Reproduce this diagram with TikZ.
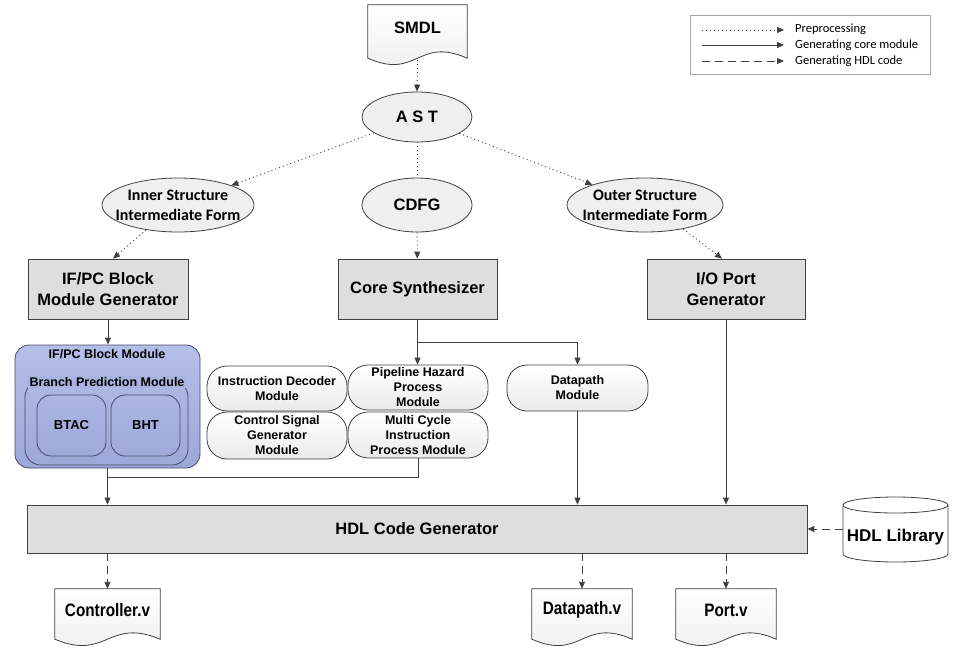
\documentclass[tikz,border=0pt]{standalone}
\usepackage{fontspec}
\setmainfont{Liberation Sans}
\newfontfamily\calfont{Carlito}
\newfontfamily\narrowfont{Liberation Sans}[FakeStretch=0.85]
\usetikzlibrary{arrows.meta,calc,backgrounds,shapes.geometric}
\definecolor{linec}{HTML}{404040}
\definecolor{boxgray}{HTML}{DEDEDE}
\definecolor{ellgray}{HTML}{EFEFEF}
\definecolor{bluefill}{HTML}{A9B3E0}
\definecolor{bluetop}{HTML}{B6BFE8}
\definecolor{bluebot}{HTML}{9CA7DA}
\definecolor{blueline}{HTML}{4A4A66}
\newcommand\bigfnt{\fontsize{16.5}{21}\selectfont\bfseries}
\newcommand\midfnt{\fontsize{12.5}{15}\selectfont\bfseries}
\newcommand\docbg[1]{%
  \path[docshape] (#1.north west) -- (#1.north east) -- ($(#1.south east)+(0,8)$)
    .. controls ($(#1.south)+(0,-14)$) and ($(#1.south)+(0,30)$) .. ($(#1.south west)+(0,8)$) -- cycle;}
\tikzset{
  lnk/.style={draw=linec, line width=0.9pt},
  arr/.style={lnk, -{Triangle[length=7pt,width=6pt]}},
  dotline/.style={lnk, dash pattern=on 1pt off 3pt},
  dotarr/.style={arr, dash pattern=on 1pt off 3pt},
  dasharr/.style={arr, dash pattern=on 8pt off 5pt},
  docshape/.style={draw=linec, line width=0.8pt, top color=white, bottom color=gray!14},
  docnode/.style={draw=none, inner sep=0pt, align=center},
  graybox/.style={draw=linec, line width=0.8pt, fill=boxgray, inner sep=0pt, align=center, font=\bigfnt},
  ell/.style={ellipse, draw=linec, line width=0.8pt, fill=ellgray, inner xsep=-10pt, inner ysep=0pt, align=center},
  pill/.style={rectangle, rounded corners=20pt, draw=linec, line width=0.8pt, top color=white, bottom color=gray!16, inner sep=0pt, align=center, font=\midfnt, minimum width=140},
  bluebox/.style={rectangle, draw=blueline, line width=0.8pt, top color=bluetop, bottom color=bluebot, inner sep=0pt},
  inbox/.style={rectangle, draw=blueline, line width=0.8pt, inner sep=0pt, align=center},
  legtext/.style={anchor=west, inner sep=0pt, font=\calfont\fontsize{12.5}{14}\selectfont}
}
\begin{document}
\begin{tikzpicture}[x=1pt,y=-1pt]
\useasboundingbox (0,0) rectangle (956,661);

% legend
\node[draw=gray!70, line width=0.8pt, fill=white, minimum width=240, minimum height=59, inner sep=0pt] (legend) at (810,44.5) {};
\coordinate (l1a) at (702,30); \coordinate (l1b) at (784,30);
\coordinate (l2a) at (702,45); \coordinate (l2b) at (784,45);
\coordinate (l3a) at (702,61); \coordinate (l3b) at (784,61);
\draw[dotarr] (l1a) -- (l1b);
\draw[arr] (l2a) -- (l2b);
\draw[dasharr] (l3a) -- (l3b);
\node[legtext] (t1) at (795,29) {Preprocessing};
\node[legtext] (t2) at (795,45) {Generating core module};
\node[legtext] (t3) at (795,61) {Generating HDL code};

% top documents and ellipses
\node[docnode, minimum width=99, minimum height=45, font=\bigfnt] (smdl) at (417.5,27.5) {SMDL};
\node[ell, minimum width=110, minimum height=50, font=\bigfnt] (ast) at (417,117) {A S T};
\node[ell, minimum width=152, minimum height=54, font=\calfont\fontsize{16}{20}\selectfont\bfseries] (inner) at (178,205) {Inner Structure\\Intermediate Form};
\node[ell, minimum width=110, minimum height=54, font=\bigfnt] (cdfg) at (417,205) {CDFG};
\node[ell, minimum width=156, minimum height=54, font=\calfont\fontsize{16}{20}\selectfont\bfseries] (outer) at (645,205) {Outer Structure\\Intermediate Form};

% generators
\node[graybox, minimum width=160, minimum height=60] (ifpc) at (108,289) {IF/PC Block\\Module Generator};
\node[graybox, minimum width=159, minimum height=60] (core) at (417.5,289) {Core Synthesizer};
\node[graybox, minimum width=158, minimum height=60] (io) at (726,289) {I/O Port\\Generator};

% IF/PC block module
\node[bluebox, rounded corners=14pt, minimum width=185, minimum height=123] (blue) at (107.5,406.5) {};
\node[inbox, rounded corners=16pt, minimum width=163, minimum height=84] (branch) at (106.5,423) {};
\node[inner sep=1.5pt, fill=bluefill, font=\midfnt] (brlabel) at (107,382) {Branch Prediction Module};
\node[inner sep=0pt, font=\midfnt] (bltitle) at (107,354) {IF/PC Block Module};
\node[inbox, rounded corners=14pt, minimum width=69, minimum height=61, font=\fontsize{13}{15}\selectfont\bfseries] (btac) at (71.5,425.5) {BTAC};
\node[inbox, rounded corners=14pt, minimum width=69, minimum height=61, font=\fontsize{13}{15}\selectfont\bfseries] (bht) at (145.5,425.5) {BHT};

% core modules
\node[pill, minimum height=45] (idm) at (277,388.5) {Instruction Decoder\\Module};
\node[pill, minimum height=45] (phm) at (418,387.5) {Pipeline Hazard\\Process\\Module};
\node[pill, minimum height=47] (csg) at (277,435.5) {Control Signal\\Generator\\Module};
\node[pill, minimum height=46] (mci) at (418,435) {Multi Cycle\\Instruction\\Process Module};
\node[pill, minimum width=141, minimum height=46] (dpm) at (577.5,388) {Datapath\\Module};

% HDL generator and library
\node[graybox, minimum width=780, minimum height=48] (hdl) at (417,529) {HDL Code Generator};
\node[anchor=base, inner sep=0pt, minimum width=105, font=\fontsize{17}{20}\selectfont\bfseries] (lib) at (895.5,541) {HDL Library};

% outputs
\node[docnode, minimum width=105, minimum height=42, font=\narrowfont\fontsize{18}{20}\selectfont\bfseries] (ctrl) at (107.5,610) {Controller.v};
\node[docnode, minimum width=100, minimum height=42, font=\narrowfont\fontsize{18}{20}\selectfont\bfseries] (dpv) at (582,610) {Datapath.v};
\node[docnode, minimum width=100, minimum height=42, font=\narrowfont\fontsize{18}{20}\selectfont\bfseries] (portv) at (726,610) {Port.v};

\begin{scope}[on background layer]
  \docbg{smdl}
  \docbg{ctrl}
  \docbg{dpv}
  \docbg{portv}
  \path[draw=linec, line width=0.8pt, fill=white] (843,505) -- (843,554)
     arc[start angle=180, end angle=0, x radius=52.5, y radius=8] -- (948,505)
     arc[start angle=0, end angle=-180, x radius=52.5, y radius=8] -- cycle;
  \draw[linec, line width=0.8pt] (843,505) arc[start angle=180, end angle=0, x radius=52.5, y radius=8];
\end{scope}

% preprocessing connectors
\draw[dotarr] ($(smdl.south)+(0,10)$) -- (ast.north);
\draw[dotarr] (ast) -- (inner);
\draw[dotline] (ast) -- (cdfg);
\draw[dotarr] (ast) -- (outer);
\draw[dotarr] (inner.218) -- ([xshift=5pt]ifpc.north);
\draw[dotarr] (cdfg) -- (core);
\draw[dotarr] (outer.328) -- ([xshift=-4pt]io.north);

% core generation connectors
\draw[arr] (ifpc.south) -- (ifpc.south |- blue.north);
\draw[lnk] (core.south) -- ($(core.south)+(0,23)$) coordinate (j1);
\draw[arr] (j1) -- (j1 |- phm.north);
\draw[arr] (j1) -| (dpm.north);
\coordinate (j2) at (107.5,477);
\draw[lnk] (mci.south) |- (j2);
\draw[arr] (blue.south) -- (blue.south |- hdl.north);
\draw[arr] (dpm.south) -- (dpm.south |- hdl.north);
\draw[arr] (io.south) -- (io.south |- hdl.north);

% HDL generation connectors
\draw[dasharr] (lib.west |- hdl.east) -- (hdl.east);
\draw[dasharr] (hdl.south -| ctrl.north) -- (ctrl.north);
\draw[dasharr] (hdl.south -| dpv.north) -- (dpv.north);
\draw[dasharr] (hdl.south -| portv.north) -- (portv.north);
\end{tikzpicture}
\end{document}
